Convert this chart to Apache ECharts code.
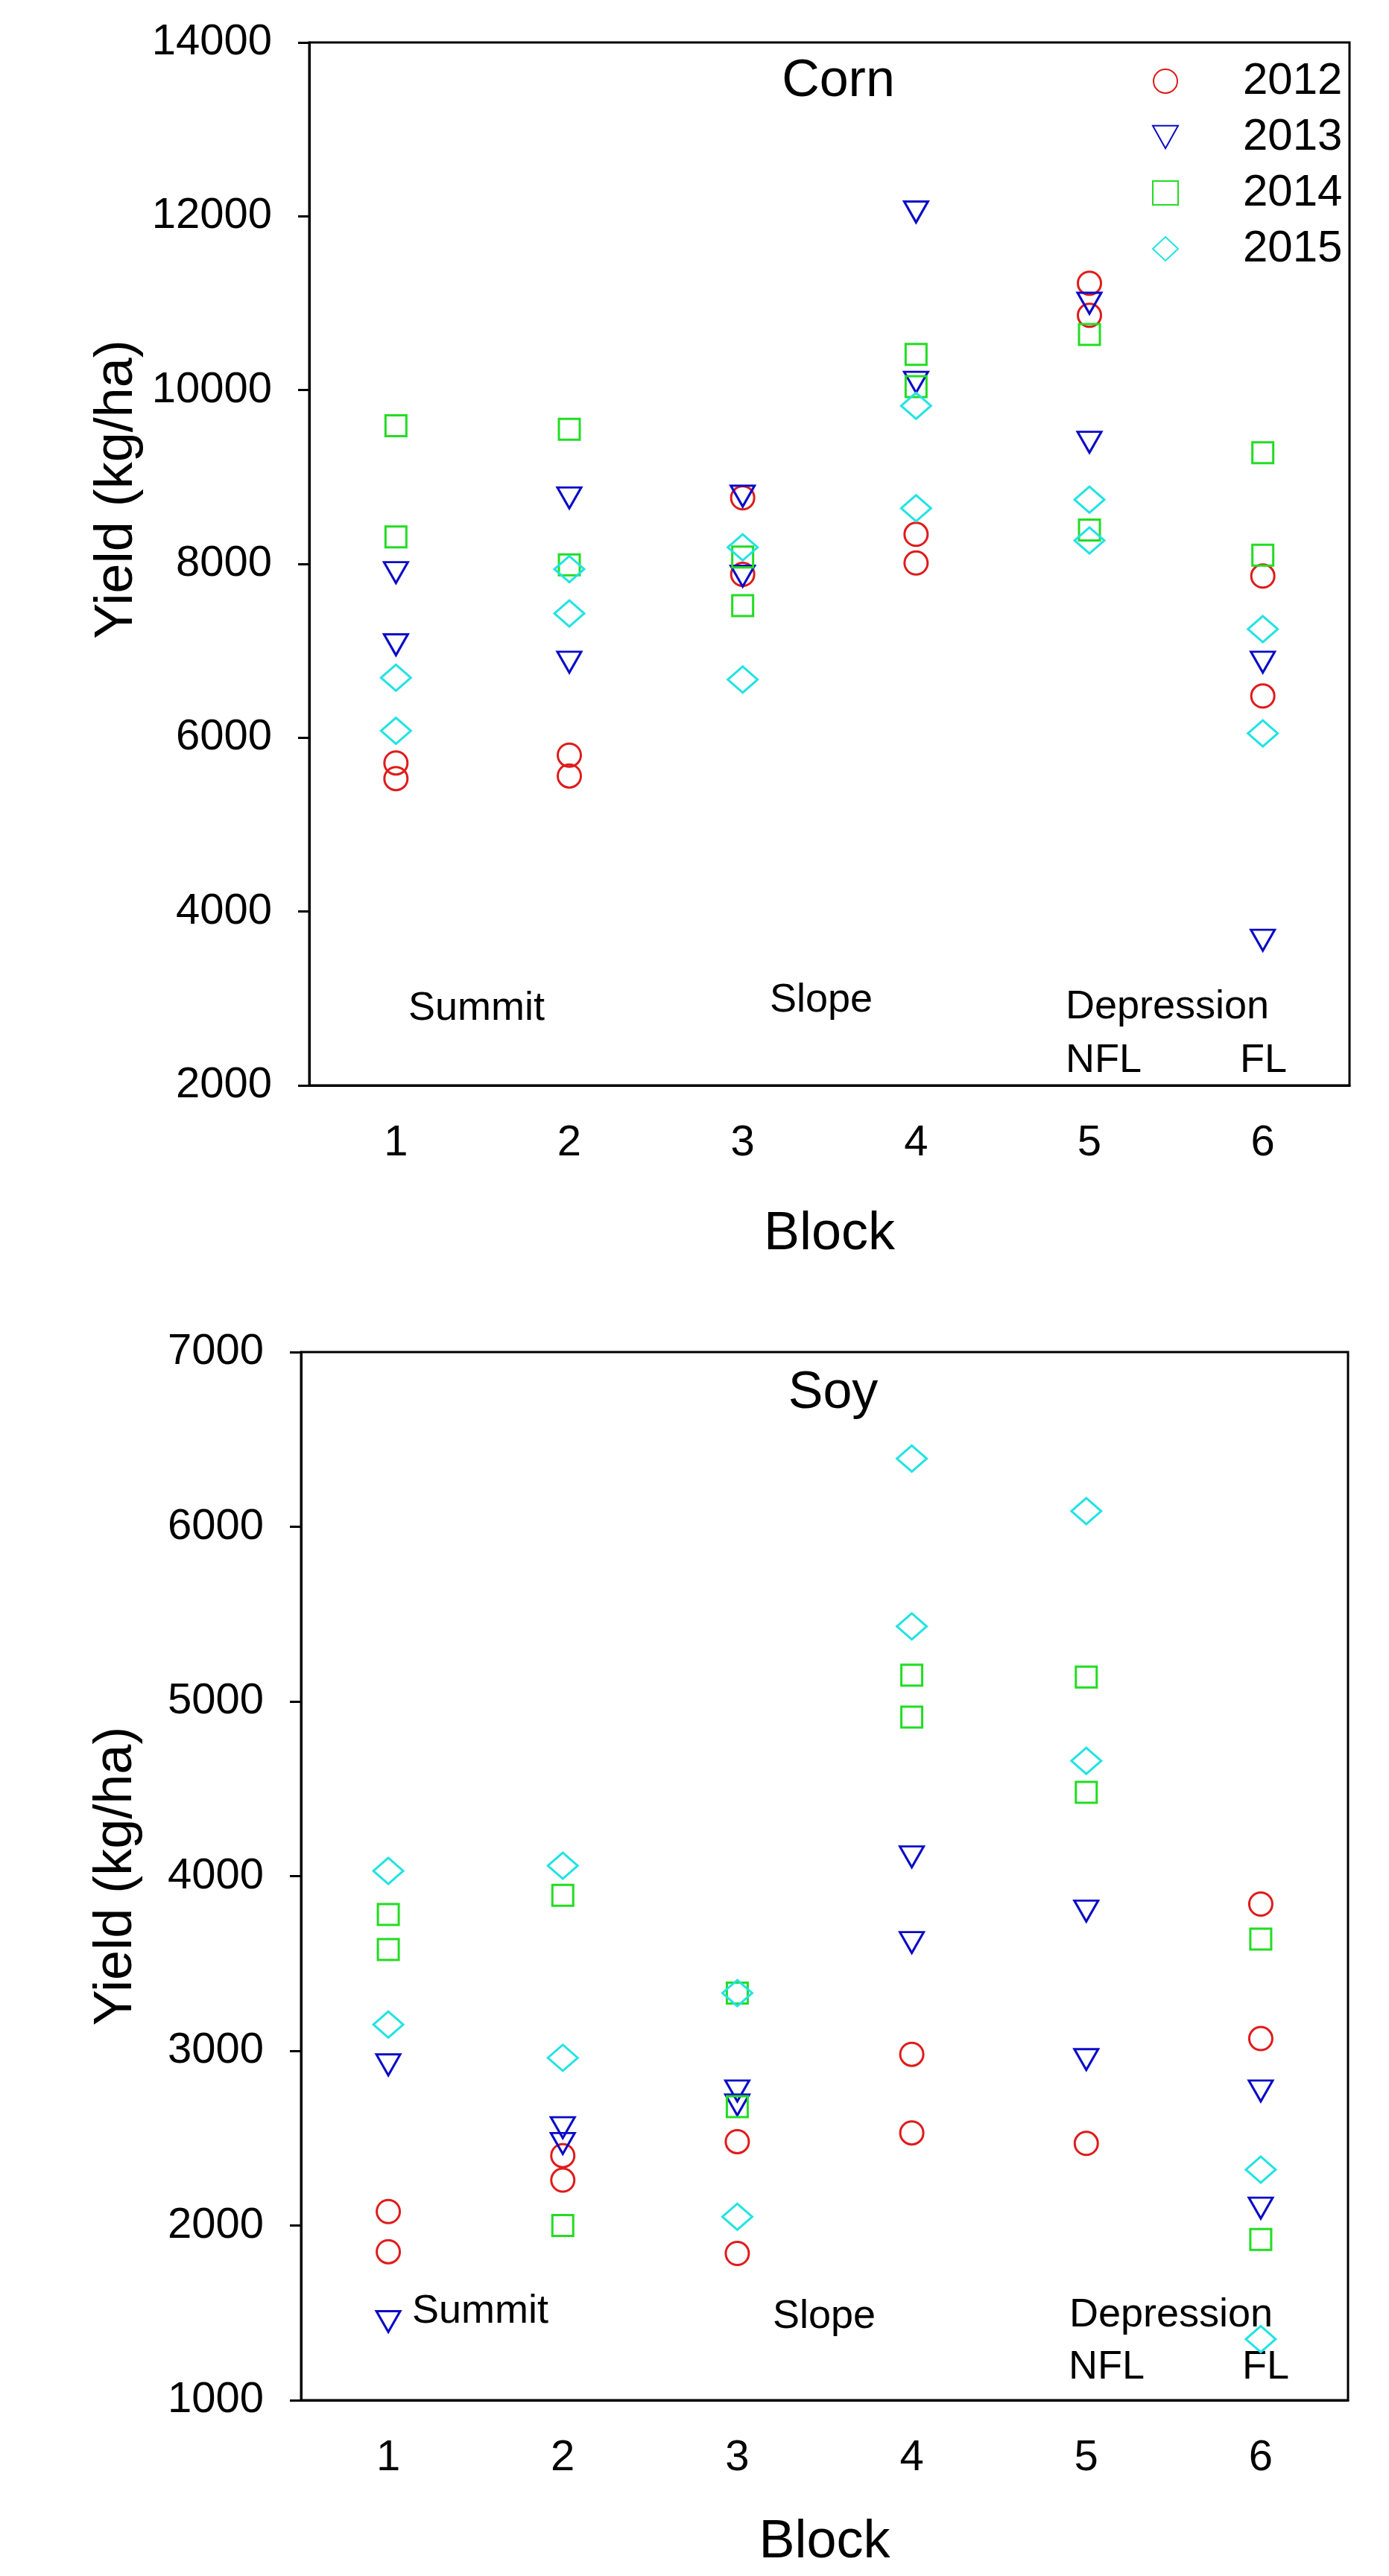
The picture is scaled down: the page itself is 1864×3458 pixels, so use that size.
<!DOCTYPE html>
<html>
<head>
<meta charset="utf-8">
<script src="https://cdn.jsdelivr.net/npm/echarts@6/dist/echarts.min.js"></script>
<style>
  html, body { margin: 0; background: #fff; }
  #chart { width: 1864px; height: 3458px; }
</style>
</head>
<body>
<div id="chart"></div>
<script>
const blocks = ['1', '2', '3', '4', '5', '6'];
const years = ['2012', '2013', '2014', '2015'];

// Corn yield (kg/ha) as [block, value]
const corn2012 = [[1, 5710], [1, 5530], [2, 5800], [2, 5560], [3, 8760], [3, 7880], [4, 8340], [4, 8010], [5, 11230], [5, 10860], [6, 7860], [6, 6480]];
const corn2013 = [[1, 7900], [1, 7070], [2, 8760], [2, 6870], [3, 8780], [3, 7860], [4, 12050], [4, 10090], [5, 11000], [5, 9400], [6, 6870], [6, 3670]];
const corn2014 = [[1, 9590], [1, 8310], [2, 9550], [2, 7990], [3, 8080], [3, 7520], [4, 10410], [4, 10040], [5, 10640], [5, 8390], [6, 9280], [6, 8100]];
const corn2015 = [[1, 6690], [1, 6080], [2, 7940], [2, 7430], [3, 8190], [3, 6670], [4, 9820], [4, 8640], [5, 8740], [5, 8270], [6, 7250], [6, 6050]];

// Soy yield (kg/ha) as [block, value]
const soy2012 = [[1, 2080], [1, 1850], [2, 2400], [2, 2260], [3, 2480], [3, 1840], [4, 2980], [4, 2530], [5, 2470], [6, 3840], [6, 3070]];
const soy2013 = [[1, 2920], [1, 1450], [2, 2560], [2, 2470], [3, 2770], [3, 2690], [4, 4110], [4, 3620], [5, 3800], [5, 2950], [6, 2770], [6, 2100]];
const soy2014 = [[1, 3780], [1, 3580], [2, 3890], [2, 2000], [3, 3330], [3, 2680], [4, 5150], [4, 4910], [5, 5140], [5, 4480], [6, 3640], [6, 1920]];
const soy2015 = [[1, 4030], [1, 3150], [2, 4060], [2, 2960], [3, 3330], [3, 2050], [4, 6390], [4, 5430], [5, 6090], [5, 4660], [6, 2320], [6, 1350]];

// [min, max, interval]
const cornRange = [2000, 14000, 2000];
const soyRange = [1000, 7000, 1000];

const FONT = "'Liberation Sans', Arial, sans-serif";

// marker per year: hollow circle, down triangle, square, diamond
const markers = [
  { symbol: 'circle', size: 31, color: '#e01b1b' },
  { symbol: 'path://M0,0L10,0L5,9Z', size: [32, 28], color: '#0a0ac8' },
  { symbol: 'rect', size: 28, color: '#22dd22' },
  { symbol: 'diamond', size: [40, 35], color: '#22e3e3' }
];

const chart = echarts.init(document.getElementById('chart'));

function toPoints(arr) {
  return arr.map(p => [p[0] - 1, p[1]]);
}

function makeSeries(sets, idx) {
  return sets.map((set, i) => ({
    name: years[i],
    type: 'scatter',
    xAxisIndex: idx,
    yAxisIndex: idx,
    symbol: markers[i].symbol,
    symbolSize: markers[i].size,
    data: toPoints(set),
    itemStyle: { color: 'rgba(0,0,0,0)', borderColor: markers[i].color, borderWidth: 3, opacity: 1 },
    emphasis: { disabled: true }
  }));
}

function xAxis(idx, gap) {
  return {
    type: 'category',
    gridIndex: idx,
    data: blocks,
    boundaryGap: true,
    name: 'Block',
    nameLocation: 'middle',
    nameGap: gap,
    nameTextStyle: { fontSize: 72, fontFamily: FONT, color: '#000' },
    axisLine: { lineStyle: { color: '#000', width: 3 } },
    axisTick: { alignWithLabel: true, length: 21, lineStyle: { color: '#000', width: 3 } },
    axisLabel: { fontSize: 58, fontFamily: FONT, color: '#000', margin: 49 },
    splitLine: { show: false }
  };
}

function yAxis(idx, range, gap, shift) {
  return {
    type: 'value',
    gridIndex: idx,
    min: range[0],
    max: range[1],
    interval: range[2],
    name: 'Yield (kg/ha)',
    nameLocation: 'middle',
    nameGap: gap,
    nameTextStyle: { fontSize: 72, fontFamily: FONT, color: '#000', padding: [0, 0, 0, shift] },
    axisLine: { show: true, lineStyle: { color: '#000', width: 3 } },
    axisTick: { show: true, length: 15, lineStyle: { color: '#000', width: 3 } },
    axisLabel: { fontSize: 58, fontFamily: FONT, color: '#000', margin: 50, formatter: v => String(v) },
    splitLine: { show: false }
  };
}

function label(text, x, y, size) {
  return {
    type: 'text',
    x: x,
    y: y,
    style: {
      text: text,
      fontSize: size || 54,
      fontFamily: FONT,
      fill: '#000',
      textAlign: 'left',
      textVerticalAlign: 'middle'
    }
  };
}

const option = {
  animation: false,
  backgroundColor: '#fff',
  grid: [
    { left: 415, top: 57, width: 1396, height: 1400, show: true, borderColor: '#000', borderWidth: 3 },
    { left: 404, top: 1815, width: 1405, height: 1407, show: true, borderColor: '#000', borderWidth: 3 }
  ],
  xAxis: [xAxis(0, 164), xAxis(1, 155)],
  yAxis: [yAxis(0, cornRange, 220, 200), yAxis(1, soyRange, 212, 0)],
  legend: {
    data: years,
    orient: 'vertical',
    left: 1541,
    top: 74,
    itemWidth: 34,
    itemHeight: 32,
    itemGap: 15,
    selectedMode: false,
    textStyle: { fontSize: 60, fontFamily: FONT, color: '#000', lineHeight: 60, padding: [0, 0, 0, 82] }
  },
  graphic: [
    { type: 'text', x: 1125, y: 110, style: { text: 'Corn', fontSize: 70, fontFamily: FONT, fill: '#000', textAlign: 'center', textVerticalAlign: 'middle' } },
    label('Summit', 548, 1354),
    label('Slope', 1033, 1343),
    label('Depression', 1430, 1352),
    label('NFL', 1430, 1424),
    label('FL', 1664, 1424),
    { type: 'text', x: 1118, y: 1871, style: { text: 'Soy', fontSize: 70, fontFamily: FONT, fill: '#000', textAlign: 'center', textVerticalAlign: 'middle' } },
    label('Summit', 553, 3103),
    label('Slope', 1037, 3110),
    label('Depression', 1435, 3108),
    label('NFL', 1434, 3178),
    label('FL', 1667, 3178)
  ],
  series: makeSeries([corn2012, corn2013, corn2014, corn2015], 0)
    .concat(makeSeries([soy2012, soy2013, soy2014, soy2015], 1))
};

chart.setOption(option);
</script>
</body>
</html>
